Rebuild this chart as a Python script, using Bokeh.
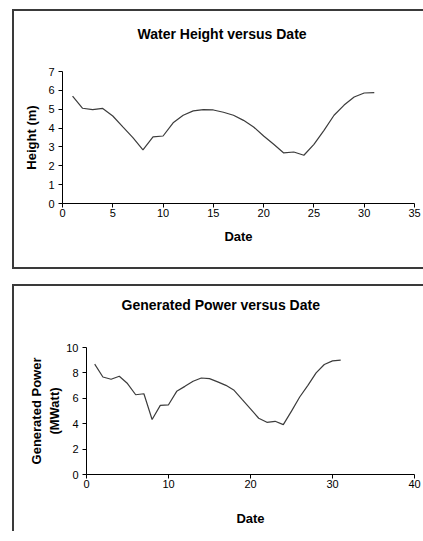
from bokeh.plotting import figure
from bokeh.models import FixedTicker, Title, LinearAxis
from bokeh.embed import file_html
from bokeh.resources import INLINE

# ---- data ----
days = list(range(1, 32))
water_height = [5.70, 5.05, 4.98, 5.04, 4.64, 4.06, 3.49, 2.84, 3.53, 3.58,
                4.28, 4.68, 4.91, 4.98, 4.96, 4.84, 4.68, 4.41, 4.06, 3.58,
                3.14, 2.68, 2.73, 2.56, 3.14, 3.88, 4.68, 5.22, 5.65, 5.86, 5.88]
power = [8.69, 7.68, 7.50, 7.74, 7.16, 6.28, 6.36, 4.33, 5.44, 5.49,
         6.55, 6.94, 7.34, 7.60, 7.55, 7.29, 7.02, 6.63, 5.89, 5.17,
         4.43, 4.11, 4.19, 3.93, 4.99, 6.10, 7.02, 8.00, 8.66, 8.95, 9.00]
x_ticks_1 = [0, 5, 10, 15, 20, 25, 30, 35]
y_ticks_1 = [0, 1, 2, 3, 4, 5, 6, 7]
x_ticks_2 = [0, 10, 20, 30, 40]
y_ticks_2 = [0, 2, 4, 6, 8, 10]
title_1 = "Water Height versus Date"
title_2 = "Generated Power versus Date"

FONT = "Liberation Sans"
LINE = "#3c3c3c"
BORDER = "#3a3a3a"


def style(p, xt, yt, xlab, ylab, ylab_standoff, xlab_standoff):
    p.xgrid.visible = False
    p.ygrid.visible = False
    p.outline_line_color = None
    p.background_fill_color = "white"
    p.border_fill_color = "white"
    p.xaxis.ticker = FixedTicker(ticks=xt)
    p.yaxis.ticker = FixedTicker(ticks=yt)
    for ax in (p.xaxis[0], p.yaxis[0]):
        ax.axis_line_color = "black"
        ax.axis_line_width = 1
        ax.major_tick_line_color = "black"
        ax.major_tick_in = 0
        ax.major_tick_out = 4
        ax.minor_tick_line_color = None
        ax.major_label_text_font = FONT
        ax.major_label_text_font_size = "11px"
        ax.major_label_text_color = "black"
        ax.axis_label_text_font = FONT
        ax.axis_label_text_font_size = "13px"
        ax.axis_label_text_font_style = "bold"
        ax.axis_label_text_color = "black"
    p.xaxis.axis_label = xlab
    p.yaxis.axis_label = ylab
    p.xaxis.major_label_standoff = 1
    p.yaxis.major_label_standoff = 4
    p.yaxis.axis_label_standoff = ylab_standoff
    p.xaxis.axis_label_standoff = xlab_standoff


def spacer_axis(gap, anchor):
    # invisible axis used only to keep space between the frame and the title
    return LinearAxis(ticker=FixedTicker(ticks=[anchor]),
                      major_label_overrides={anchor: ""},
                      axis_line_color=None,
                      major_tick_line_color=None, minor_tick_line_color=None,
                      major_tick_in=0, major_tick_out=gap, minor_tick_out=0,
                      major_label_standoff=0, major_label_text_font_size="1px")


def make_title(text, offset):
    return Title(text=text, align="left", offset=offset, standoff=4,
                 text_font=FONT, text_font_size="14px",
                 text_font_style="bold", text_color="black")


box_common = {"margin-left": "12px", "overflow": "hidden",
              "border-left": f"2px solid {BORDER}",
              "border-top": f"2px solid {BORDER}"}

# ---- chart 1 ----
p1 = figure(width=416, height=260, x_range=(0, 35), y_range=(0, 7),
            output_backend="svg", toolbar_location=None,
            min_border_left=48, min_border_right=16,
            min_border_top=60, min_border_bottom=68,
            styles=dict(box_common, **{"margin-top": "9px",
                                       "border-bottom": f"2px solid {BORDER}"}))
p1.line(days, water_height, line_color=LINE, line_width=1.2)
style(p1, x_ticks_1, y_ticks_1, "Date", "Height (m)", 6, 9)
p1.add_layout(spacer_axis(28, x_ticks_1[0]), "above")
p1.add_layout(make_title(title_1, 75), "above")

# ---- chart 2 ----
p2 = figure(width=416, height=247, x_range=(0, 40), y_range=(0, 10),
            output_backend="svg", toolbar_location=None,
            min_border_left=72, min_border_right=16,
            min_border_top=61, min_border_bottom=59,
            styles=dict(box_common, **{"margin-top": "15px"}))
p2.line(days, power, line_color=LINE, line_width=1.2)
style(p2, x_ticks_2, y_ticks_2, "Date", "Generated Power\n(MWatt)", 1, 20)
p2.add_layout(spacer_axis(33, x_ticks_2[0]), "above")
p2.add_layout(make_title(title_2, 35), "above")

html = file_html([p1, p2], INLINE)
html = html.replace("</head>", "<style>body { overflow: hidden; }</style></head>", 1)
open("out.html", "w").write(html)
